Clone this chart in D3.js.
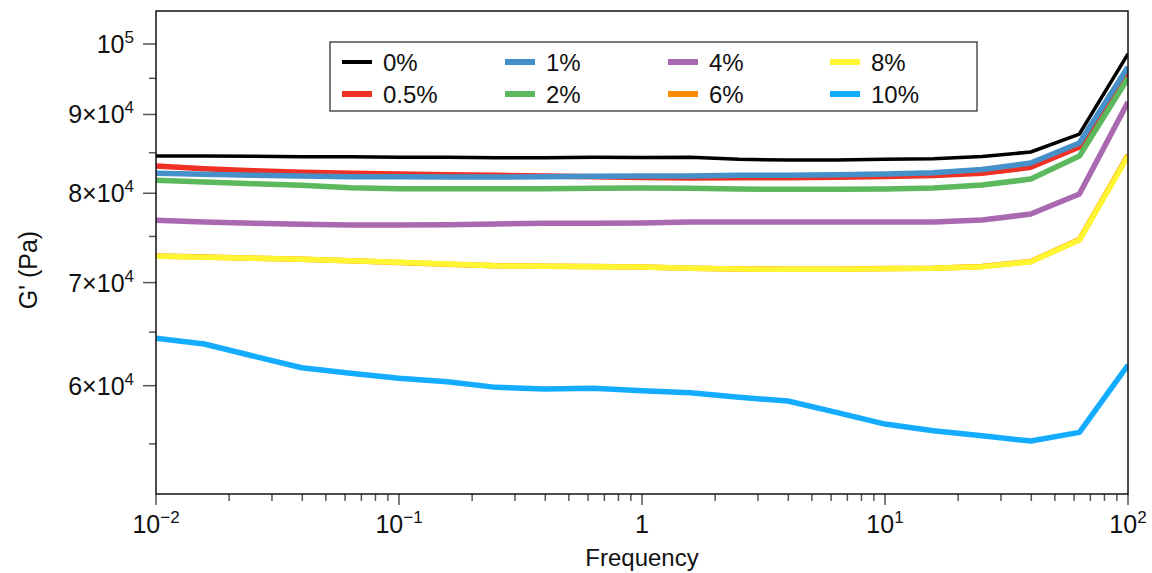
<!DOCTYPE html>
<html>
<head>
<meta charset="utf-8">
<script src="https://cdn.jsdelivr.net/npm/d3@7"></script>
<style>
  html, body { margin: 0; padding: 0; background: #fff; }
  svg { display: block; font-family: "Liberation Sans", Arial, sans-serif; }
</style>
</head>
<body>
<svg id="chart" width="1152" height="573"></svg>
<script>
// Storage modulus G' versus frequency, one line per concentration
const frequency = [0.01, 0.0158, 0.0251, 0.0398, 0.0631, 0.1, 0.158, 0.251, 0.398, 0.631,
                   1, 1.58, 2.51, 3.98, 6.31, 10, 15.8, 25.1, 39.8, 63.1, 100];

const g0   = [84580, 84580, 84540, 84490, 84490, 84420, 84420, 84370, 84370, 84420, 84390,
              84420, 84160, 84080, 84080, 84160, 84240, 84520, 85090, 87410, 98520];
const g05  = [83325, 82990, 82740, 82540, 82420, 82335, 82250, 82175, 82090, 82000, 81905,
              81845, 81870, 81870, 81940, 82025, 82150, 82420, 83165, 85725, 95760];
const g1   = [82420, 82300, 82175, 82090, 82000, 82000, 81965, 81965, 82000, 82050, 82090,
              82090, 82175, 82175, 82250, 82335, 82495, 82890, 83700, 86240, 96620];
const g2   = [81565, 81355, 81150, 80955, 80665, 80545, 80545, 80545, 80545, 80590, 80630,
              80590, 80510, 80470, 80470, 80510, 80630, 80990, 81720, 84580, 95045];
const g4   = [76825, 76630, 76485, 76370, 76290, 76290, 76325, 76405, 76485, 76485, 76520,
              76630, 76630, 76630, 76630, 76630, 76630, 76860, 77555, 79910, 91695];
const g6   = [72830, 72720, 72600, 72480, 72310, 72130, 71950, 71790, 71740, 71700, 71660,
              71520, 71440, 71410, 71420, 71480, 71520, 71700, 72240, 74650, 84700];
const g8   = [72800, 72695, 72585, 72475, 72325, 72150, 71970, 71785, 71720, 71680, 71645,
              71505, 71430, 71400, 71400, 71465, 71505, 71680, 72215, 74600, 84580];
const g10  = [64400, 63855, 62720, 61630, 61120, 60665, 60355, 59850, 59700, 59760, 59550,
              59370, 58965, 58640, 57655, 56655, 56090, 55675, 55235, 55955, 61880];

const seriesNames  = ["0%", "0.5%", "1%", "2%", "4%", "6%", "8%", "10%"];
const seriesValues = [g0, g05, g1, g2, g4, g6, g8, g10];
const seriesColors = ["#000000", "#ee3124", "#4590c8", "#5cb85c", "#a968b0", "#ff8c00", "#fff533", "#13acff"];
const seriesWidths = [3.5, 5.5, 5.5, 5.5, 5.5, 5.5, 5.5, 5.5];

// Axis ticks
const yMajor = [60000, 70000, 80000, 90000, 100000];
const yMajorLabels = [["6×10", "4"], ["7×10", "4"], ["8×10", "4"], ["9×10", "4"], ["10", "5"]];
const yMinor = [55000, 65000, 75000, 85000, 95000];
const xMajor = [0.01, 0.1, 1, 10, 100];
const xMajorLabels = [["10", "−2"], ["10", "−1"], ["1", ""], ["10", "1"], ["10", "2"]];

const svg = d3.select("#chart");
const plotLeft = 156, plotRight = 1128, plotTop = 11, plotBottom = 494;

const x = d3.scaleLog().domain([0.01, 100]).range([plotLeft, plotRight]);
const y = d3.scaleLog().domain([51030, 105060]).range([plotBottom, plotTop]);

// Minor x ticks: 2..9 in each decade
const xMinor = [];
[0.01, 0.1, 1, 10].forEach(d => { for (let m = 2; m <= 9; m++) xMinor.push(d * m); });

const tickColor = "#555";

// Y axis ticks
const yAxisG = svg.append("g");
yAxisG.selectAll("line.maj").data(yMajor).join("line").attr("class", "maj")
  .attr("x1", plotLeft - 13).attr("x2", plotLeft)
  .attr("y1", d => y(d)).attr("y2", d => y(d))
  .attr("stroke", tickColor).attr("stroke-width", 1.5);
yAxisG.selectAll("line.min").data(yMinor).join("line").attr("class", "min")
  .attr("x1", plotLeft - 7).attr("x2", plotLeft)
  .attr("y1", d => y(d)).attr("y2", d => y(d))
  .attr("stroke", tickColor).attr("stroke-width", 1.5);
const yl = yAxisG.selectAll("text").data(yMajor).join("text")
  .attr("x", plotLeft - 22).attr("y", d => y(d) + 9)
  .attr("text-anchor", "end").attr("font-size", 25).attr("fill", "#111");
yl.append("tspan").text((d, i) => yMajorLabels[i][0]);
yl.append("tspan").attr("dy", -10).attr("font-size", 17).text((d, i) => yMajorLabels[i][1]);

// X axis ticks
const xAxisG = svg.append("g");
xAxisG.selectAll("line.maj").data(xMajor).join("line").attr("class", "maj")
  .attr("x1", d => x(d)).attr("x2", d => x(d))
  .attr("y1", plotBottom).attr("y2", plotBottom + 11)
  .attr("stroke", tickColor).attr("stroke-width", 1.5);
xAxisG.selectAll("line.min").data(xMinor).join("line").attr("class", "min")
  .attr("x1", d => x(d)).attr("x2", d => x(d))
  .attr("y1", plotBottom).attr("y2", plotBottom + 7)
  .attr("stroke", tickColor).attr("stroke-width", 1.5);
const xl = xAxisG.selectAll("text").data(xMajor).join("text")
  .attr("x", d => x(d)).attr("y", 533)
  .attr("text-anchor", "middle").attr("font-size", 25).attr("fill", "#111");
xl.append("tspan").text((d, i) => xMajorLabels[i][0]);
xl.append("tspan").attr("dy", -10).attr("font-size", 17).text((d, i) => xMajorLabels[i][1]);

// Axis titles
svg.append("text").attr("x", (plotLeft + plotRight) / 2).attr("y", 566)
  .attr("text-anchor", "middle").attr("font-size", 24).attr("fill", "#111")
  .text("Frequency");
svg.append("text").attr("transform", "translate(37,270) rotate(-90)")
  .attr("text-anchor", "middle").attr("font-size", 25).attr("fill", "#111")
  .text("G' (Pa)");

// Lines
svg.append("clipPath").attr("id", "plotclip")
  .append("rect").attr("x", plotLeft).attr("y", plotTop)
  .attr("width", plotRight - plotLeft).attr("height", plotBottom - plotTop);

const line = d3.line().x((d, i) => x(frequency[i])).y(d => y(d));
const order = [0, 1, 2, 3, 4, 5, 6, 7];
svg.append("g").attr("clip-path", "url(#plotclip)")
  .selectAll("path").data(order).join("path")
  .attr("d", i => line(seriesValues[i]))
  .attr("fill", "none")
  .attr("stroke", i => seriesColors[i])
  .attr("stroke-width", i => seriesWidths[i])
  .attr("stroke-linejoin", "round");

// Frame
svg.append("rect").attr("x", plotLeft).attr("y", plotTop)
  .attr("width", plotRight - plotLeft).attr("height", plotBottom - plotTop)
  .attr("fill", "none").attr("stroke", "#111").attr("stroke-width", 1.5);

// Legend: two rows, four columns
const legend = svg.append("g");
legend.append("rect").attr("x", 330).attr("y", 42).attr("width", 647).attr("height", 69)
  .attr("fill", "#fff").attr("stroke", "#222").attr("stroke-width", 1.2);
const colX = [342, 505, 668, 830];
const rowY = [62, 94];
seriesNames.forEach((name, i) => {
  const c = Math.floor(i / 2), r = i % 2;
  legend.append("line")
    .attr("x1", colX[c]).attr("x2", colX[c] + 30)
    .attr("y1", rowY[r]).attr("y2", rowY[r])
    .attr("stroke", seriesColors[i]).attr("stroke-width", i === 0 ? 4 : 6);
  legend.append("text")
    .attr("x", colX[c] + 41).attr("y", rowY[r] + 8.5)
    .attr("font-size", 24).attr("fill", "#111")
    .text(name);
});
</script>
</body>
</html>
